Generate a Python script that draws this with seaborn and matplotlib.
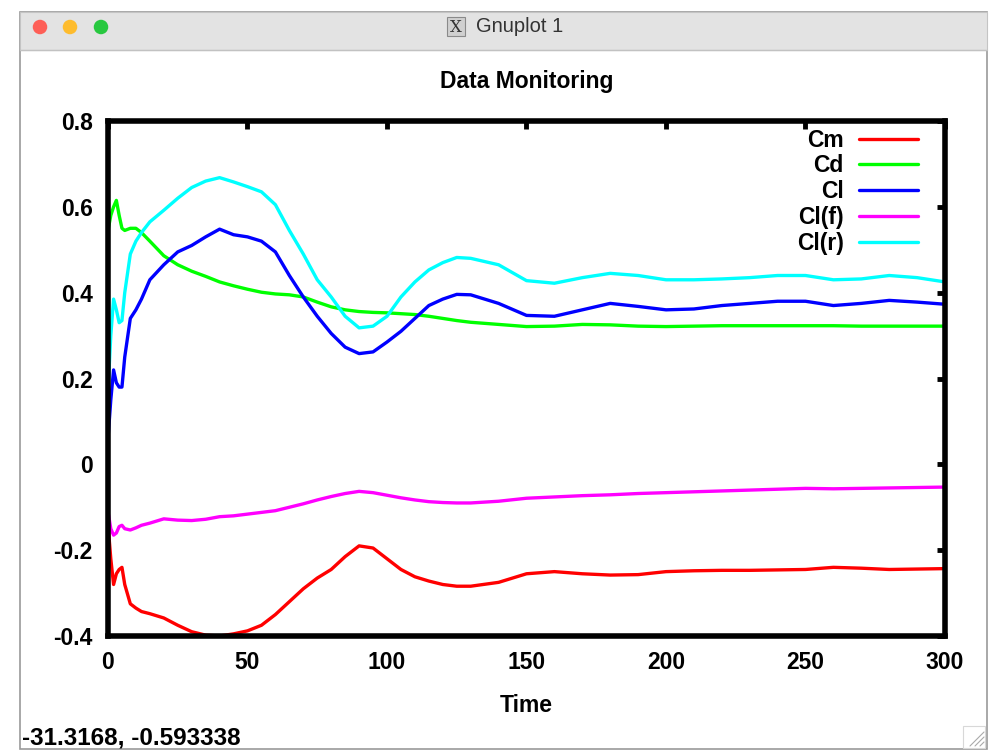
import pandas as pd
import numpy as np
import matplotlib
matplotlib.use("Agg")
import matplotlib.pyplot as plt
import matplotlib.patches as mpatches
import seaborn as sns

# Sample times and coefficient traces
time = [0, 1, 2, 3, 4, 5, 6, 8, 10, 12, 15, 20, 25, 30, 35, 40, 45, 50, 55, 60,
        65, 70, 75, 80, 85, 90, 95, 100, 105, 110, 115, 120, 125, 130, 140, 150,
        160, 170, 180, 190, 200, 210, 220, 230, 240, 250, 260, 270, 280, 290, 300]

cm = [-0.14, -0.22, -0.28, -0.255, -0.245, -0.24, -0.28, -0.325, -0.335, -0.343,
      -0.348, -0.358, -0.375, -0.39, -0.398, -0.40, -0.395, -0.388, -0.375, -0.35,
      -0.32, -0.29, -0.265, -0.245, -0.215, -0.19, -0.195, -0.22, -0.245, -0.262,
      -0.272, -0.28, -0.284, -0.284, -0.275, -0.255, -0.25, -0.255, -0.258, -0.257,
      -0.25, -0.248, -0.247, -0.247, -0.246, -0.245, -0.24, -0.242, -0.245, -0.244,
      -0.243]

cd = [0.545, 0.58, 0.60, 0.615, 0.58, 0.55, 0.545, 0.55, 0.55, 0.54,
      0.52, 0.486, 0.465, 0.45, 0.438, 0.425, 0.416, 0.408, 0.401, 0.397,
      0.395, 0.39, 0.378, 0.367, 0.36, 0.356, 0.354, 0.353, 0.351, 0.349,
      0.345, 0.34, 0.335, 0.331, 0.326, 0.321, 0.322, 0.326, 0.325, 0.322,
      0.321, 0.322, 0.323, 0.323, 0.323, 0.323, 0.323, 0.322, 0.322, 0.322,
      0.322]

cl = [0.06, 0.15, 0.22, 0.19, 0.18, 0.18, 0.25, 0.34, 0.36, 0.385,
      0.43, 0.465, 0.495, 0.51, 0.53, 0.548, 0.535, 0.53, 0.52, 0.495,
      0.44, 0.39, 0.345, 0.305, 0.273, 0.258, 0.262, 0.285, 0.31, 0.34,
      0.37, 0.385, 0.396, 0.395, 0.375, 0.347, 0.345, 0.36, 0.375, 0.368,
      0.36, 0.362, 0.37, 0.375, 0.38, 0.38, 0.37, 0.375, 0.382, 0.378,
      0.373]

cl_f = [-0.11, -0.15, -0.165, -0.16, -0.145, -0.142, -0.15, -0.153, -0.148, -0.142,
        -0.137, -0.127, -0.13, -0.131, -0.128, -0.122, -0.12, -0.116, -0.112, -0.108,
        -0.1, -0.092, -0.083, -0.075, -0.068, -0.063, -0.066, -0.072, -0.078, -0.083,
        -0.087, -0.089, -0.09, -0.09, -0.086, -0.079, -0.076, -0.073, -0.071, -0.068,
        -0.066, -0.064, -0.062, -0.06, -0.058, -0.056, -0.057, -0.056, -0.055, -0.054,
        -0.053]

cl_r = [0.17, 0.30, 0.385, 0.36, 0.33, 0.335, 0.40, 0.49, 0.52, 0.54,
        0.565, 0.592, 0.62, 0.645, 0.66, 0.668, 0.658, 0.647, 0.635, 0.605,
        0.545, 0.49, 0.43, 0.39, 0.345, 0.318, 0.322, 0.345, 0.39, 0.425,
        0.453, 0.47, 0.482, 0.48, 0.465, 0.428, 0.422, 0.435, 0.445, 0.44,
        0.43, 0.43, 0.432, 0.435, 0.44, 0.44, 0.43, 0.432, 0.44, 0.435,
        0.425]

series_names = ["Cm", "Cd", "Cl", "Cl(f)", "Cl(r)"]
series_colors = ["#ff0000", "#00ff00", "#0000ff", "#ff00ff", "#00ffff"]
x_ticks = [0, 50, 100, 150, 200, 250, 300]
y_ticks = [-0.4, -0.2, 0, 0.2, 0.4, 0.6, 0.8]
y_tick_labels = ["-0.4", "-0.2", "0", "0.2", "0.4", "0.6", "0.8"]

# long-form table for seaborn
frames = []
for name, vals in zip(series_names, [cm, cd, cl, cl_f, cl_r]):
    frames.append(pd.DataFrame({"Time": time, "value": vals, "series": name}))
df = pd.concat(frames, ignore_index=True)

sns.set_style("white")
plt.rcParams["font.family"] = ["Liberation Sans", "DejaVu Sans"]
plt.rcParams["text.color"] = "black"
plt.rcParams["axes.labelcolor"] = "black"

W, H = 995, 753
fig = plt.figure(figsize=(W / 100, H / 100), dpi=100, facecolor="white")

def px(x, y):
    # pixel (from top-left) -> inches for dpi_scale_trans
    return x / 100, (H - y) / 100

tr = fig.dpi_scale_trans

# window frame + title bar (kept behind the axes)
fig.add_artist(mpatches.Rectangle(px(20, 749), 9.67, 7.37, transform=tr, zorder=-10,
                                  facecolor="white", edgecolor="#9a9a9a", lw=1.2))
fig.add_artist(mpatches.Rectangle(px(20, 50), 9.67, 0.38, transform=tr, zorder=-9,
                                  facecolor="#e3e3e3", edgecolor="#c4c4c4", lw=0.8))
fig.add_artist(plt.Line2D([0.20, 9.87], [(H - 50) / 100] * 2, transform=tr,
                          color="#c2c2c2", lw=1, zorder=-8))
for cx, col in zip([40, 70, 101], ["#fe5f57", "#febc2e", "#28c840"]):
    fig.add_artist(mpatches.Ellipse(px(cx, 27), 0.145, 0.145, transform=tr,
                                    facecolor=col, edgecolor="none", zorder=-8))
fig.add_artist(mpatches.Rectangle(px(447, 36), 0.18, 0.19, transform=tr, zorder=-8,
                                  facecolor="#d0d0d0", edgecolor="#8a8a8a", lw=0.8))
fig.text(*px(456, 27), "X", transform=tr, ha="center", va="center",
         fontsize=12, family="DejaVu Serif", color="#333333")
fig.text(*px(476, 27), "Gnuplot 1", transform=tr, ha="left", va="center",
         fontsize=14.5, color="#333333")

# resize grip
fig.add_artist(mpatches.Rectangle(px(963, 748), 0.22, 0.22, transform=tr, zorder=-8,
                                  facecolor="white", edgecolor="#d8d8d8", lw=0.8))
for k in range(3):
    x0 = 970 + k * 5
    fig.add_artist(plt.Line2D([x0 / 100, 9.84], [(H - 746) / 100, (H - 746 + 9.84 * 100 - x0) / 100],
                              transform=tr, color="#aaaaaa", lw=0.8, zorder=-7))

# status line
fig.text(*px(22, 738), "-31.3168, -0.593338", transform=tr, ha="left", va="center",
         fontsize=17.5, fontweight="bold", color="black")

# plot area
ax = fig.add_axes([108 / W, 1 - 636 / H, (945 - 108) / W, (636 - 121) / H])
ax.set_facecolor("none")
sns.lineplot(data=df, x="Time", y="value", hue="series", hue_order=series_names,
             palette=series_colors, linewidth=2.4, estimator=None, sort=False, ax=ax)

ax.set_xlim(0, 300)
ax.set_ylim(-0.4, 0.8)
ax.set_xticks(x_ticks)
ax.set_xticklabels([str(v) for v in x_ticks])
ax.set_yticks(y_ticks)
ax.set_yticklabels(y_tick_labels)
for lab in ax.get_xticklabels() + ax.get_yticklabels():
    lab.set_fontweight("bold")
ax.tick_params(direction="in", length=6, width=3.5, top=True, right=True,
               labelsize=16.5, colors="black")
ax.tick_params(axis="x", pad=11)
ax.tick_params(axis="y", pad=11)
for sp in ax.spines.values():
    sp.set_linewidth(4)
    sp.set_color("black")

ax.set_title("Data Monitoring", fontsize=16.5, fontweight="bold", pad=24, color="black")
ax.set_xlabel("Time", fontsize=16.5, fontweight="bold", labelpad=14, color="black")
ax.set_ylabel("")

# labels sit left of the samples and line up on the right (markerfirst=False)
handles, labels = ax.get_legend_handles_labels()
leg = ax.legend(handles, labels, loc="upper right", bbox_to_anchor=(0.968, 0.985),
                frameon=False, markerfirst=False, fontsize=16.5, handlelength=2.6,
                handletextpad=0.65, labelspacing=0.12, borderpad=0, borderaxespad=0,
                labelcolor="black")
for t in leg.get_texts():
    t.set_fontweight("bold")

fig.savefig("out.png", dpi=100, facecolor="white")
